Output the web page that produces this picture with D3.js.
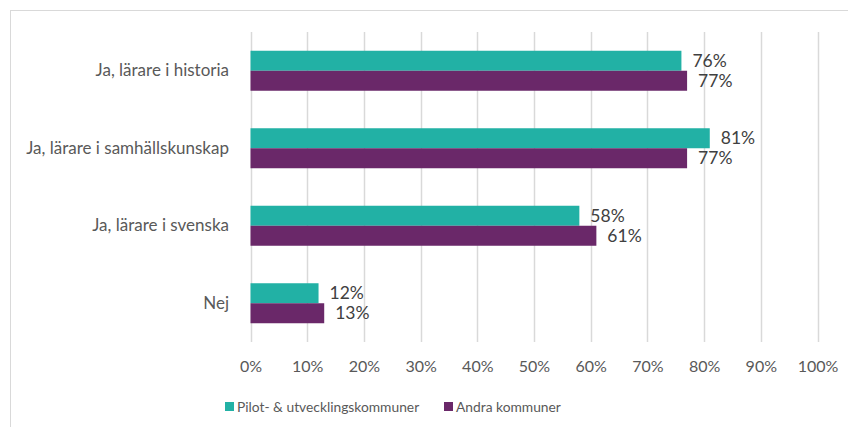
<!DOCTYPE html>
<html><head><meta charset="utf-8">
<script src="https://cdn.jsdelivr.net/npm/d3@7"></script>
<style>body{margin:0;background:#fff}svg{display:block;font-family:Lato,"Open Sans",sans-serif}</style>
</head><body>
<svg id="c" width="848" height="427"></svg>
<script>
const categories = ["Ja, lärare i historia","Ja, lärare i samhällskunskap","Ja, lärare i svenska","Nej"];
const seriesNames = ["Pilot- & utvecklingskommuner","Andra kommuner"];
const pilot = [76,81,58,12];
const andra = [77,77,61,13];
const ticks = [0,10,20,30,40,50,60,70,80,90,100];
const colors = ["#22B1A5","#6A2869"];

const svg = d3.select("#c");
svg.append("rect").attr("x",10.5).attr("y",10.5).attr("width",900).attr("height",500)
  .attr("fill","none").attr("stroke","#d9d9d9");

const x = d3.scaleLinear().domain([0,100]).range([250.5,817.5]);
const y = d3.scaleBand().domain(categories).range([32,342]);
const inner = d3.scaleBand().domain([0,1]).range([y.bandwidth()/2-20, y.bandwidth()/2+20]);

svg.append("g").selectAll("line").data(ticks).join("line")
  .attr("x1",d=>Math.round(x(d))+0.5).attr("x2",d=>Math.round(x(d))+0.5)
  .attr("y1",32).attr("y2",342).attr("stroke","#d9d9d9").attr("stroke-width",1.5);

const xAxis = d3.axisBottom(x).tickValues(ticks).tickFormat(d=>d+"%").tickSize(0).tickPadding(0);
const ga = svg.append("g").attr("transform","translate(0,372)").call(xAxis);
ga.select(".domain").remove();
ga.selectAll("text").attr("fill","#595959").attr("font-size","16px").attr("font-family","Lato").attr("dy",0);

const yAxis = d3.axisLeft(y).tickSize(0).tickPadding(0);
const gy = svg.append("g").attr("transform","translate(229,0)").call(yAxis);
gy.select(".domain").remove();
gy.selectAll("text").attr("fill","#595959").attr("font-size","17px").attr("font-family","Lato").attr("dy","0.32em");

const series = [pilot, andra];
series.forEach((vals,si)=>{
  const g = svg.append("g");
  g.selectAll("rect").data(vals).join("rect")
    .attr("x",x(0)).attr("y",(d,i)=>y(categories[i])+inner(si))
    .attr("width",d=>x(d)-x(0)).attr("height",inner.bandwidth())
    .attr("fill",colors[si]);
  g.selectAll("text").data(vals).join("text")
    .attr("x",d=>x(d)+11).attr("y",(d,i)=>y(categories[i])+inner(si)+inner.bandwidth()/2)
    .attr("dy","0.35em").attr("fill","#404040").attr("font-size","17.5px")
    .text(d=>d+"%");
});

const leg = [{x:225,tx:237},{x:444,tx:456}];
seriesNames.forEach((n,i)=>{
  svg.append("rect").attr("x",leg[i].x).attr("y",402).attr("width",9).attr("height",9).attr("fill",colors[i]);
  svg.append("text").attr("x",leg[i].tx).attr("y",407).attr("dy","0.35em")
    .attr("fill","#595959").attr("font-size","13.8px").text(n);
});
</script>
</body></html>
